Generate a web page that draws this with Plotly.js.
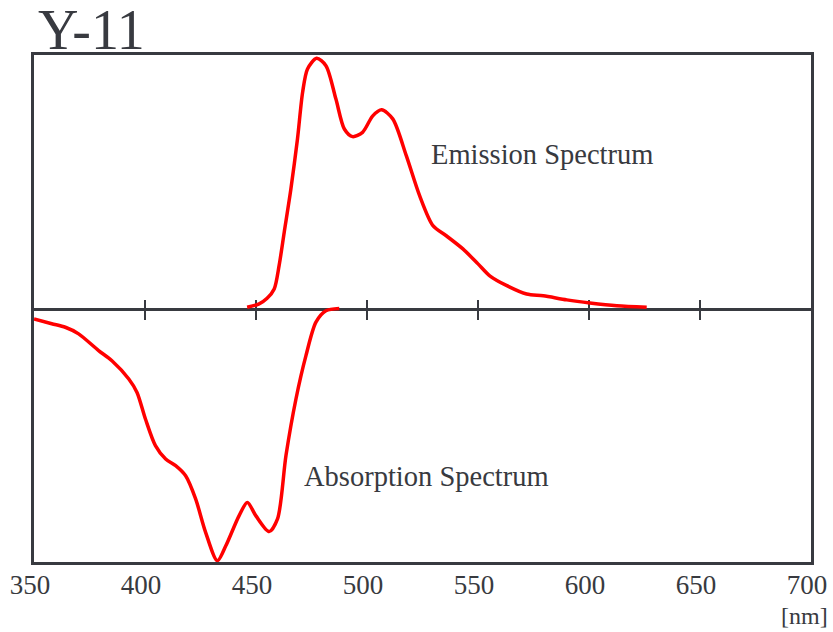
<!DOCTYPE html>
<html>
<head>
<meta charset="utf-8">
<script src="https://cdn.plot.ly/plotly-3.0.1.min.js"></script>
<style>html,body{margin:0;padding:0;background:#fff;}#chart{width:833px;height:632px;}</style>
</head>
<body>
<div id="chart"></div>
<script>
// Emission spectrum (normalized, positive)
var emissionNm = [446, 451.4, 455, 458.2, 460.4, 462.7, 465.7, 468.7, 471, 473.2, 477.3, 481.5, 486, 489.8, 493.5, 498, 502.6, 506.6, 511.6, 517.7, 523.7, 529.7, 535.7, 543.2, 550, 555.3, 563, 571.9, 579.4, 590, 600.4, 612.5, 626];
var emissionVal = [0.005, 0.018, 0.04, 0.077, 0.169, 0.30, 0.47, 0.67, 0.853, 0.945, 0.987, 0.958, 0.826, 0.708, 0.678, 0.695, 0.76, 0.784, 0.748, 0.603, 0.445, 0.327, 0.287, 0.235, 0.176, 0.129, 0.09, 0.057, 0.05, 0.034, 0.022, 0.011, 0.005];

// Absorption spectrum (normalized, drawn downward)
var absorptionNm = [350, 358, 364.1, 370.1, 379.1, 385.1, 392.7, 396.4, 400.2, 404.7, 409.3, 413.8, 418.3, 422.8, 427.3, 432.6, 436.4, 442.4, 446.1, 449.9, 455.9, 459.7, 463.5, 468, 472.5, 477, 481.5, 487.5];
var absorptionVal = [-0.041, -0.06, -0.074, -0.10, -0.166, -0.206, -0.278, -0.331, -0.436, -0.541, -0.594, -0.62, -0.66, -0.751, -0.883, -0.995, -0.936, -0.817, -0.765, -0.817, -0.88, -0.83, -0.58, -0.357, -0.186, -0.054, -0.009, 0];

var tickLabels = [350, 400, 450, 500, 550, 600, 650, 700];
var midTicks = [400, 450, 500, 550, 600, 650];

var FONT = "Liberation Serif, Times New Roman, serif";
var INK = "#383a40";

var traces = [
  {x: emissionNm, y: emissionVal, type: "scatter", mode: "lines", name: "Emission",
   line: {color: "#ff0000", width: 3.5, shape: "spline", smoothing: 0.8}, hoverinfo: "skip"},
  {x: absorptionNm, y: absorptionVal, type: "scatter", mode: "lines", name: "Absorption",
   line: {color: "#ff0000", width: 3.5, shape: "spline", smoothing: 0.8}, hoverinfo: "skip"}
];

var layout = {
  width: 833, height: 632,
  margin: {l: 34, r: 22, t: 55, b: 70},
  paper_bgcolor: "#fff", plot_bgcolor: "#fff",
  showlegend: false,
  font: {family: FONT, color: INK},
  title: {text: "Y-11", font: {family: FONT, size: 56, color: INK},
          x: 38 / 833, xanchor: "left", xref: "container",
          y: 1 - 29 / 632, yanchor: "middle", yref: "container"},
  xaxis: {range: [350, 700], tickvals: tickLabels, ticktext: tickLabels.map(String),
          ticks: "", showgrid: false, zeroline: false,
          showline: true, mirror: true, linecolor: INK, linewidth: 3,
          tickfont: {family: FONT, size: 27, color: INK}, ticklabelshift: -4, ticklabelstandoff: -3,
          layer: "below traces", fixedrange: true},
  xaxis2: {overlaying: "x", matches: "x", anchor: "free", position: 0.5,
           tickvals: midTicks, showticklabels: false, ticks: "outside", ticklen: 9,
           tickwidth: 2.6, tickcolor: INK, showline: true, linecolor: INK, linewidth: 3,
           showgrid: false, zeroline: false, layer: "below traces"},
  xaxis3: {overlaying: "x", matches: "x", anchor: "free", position: 0.5,
           tickvals: midTicks, showticklabels: false, ticks: "inside", ticklen: 9,
           tickwidth: 2.6, tickcolor: INK, showline: false,
           showgrid: false, zeroline: false, layer: "below traces"},
  yaxis: {range: [-1, 1], showticklabels: false, ticks: "", showgrid: false, zeroline: false,
          showline: true, mirror: true, linecolor: INK, linewidth: 3, layer: "below traces", fixedrange: true},
  annotations: [
    {text: "Emission Spectrum", x: 578.8, y: 0.607, xref: "x", yref: "y", showarrow: false,
     font: {family: FONT, size: 28.5, color: INK}},
    {text: "Absorption Spectrum", x: 526.6, y: -0.663, xref: "x", yref: "y", showarrow: false,
     font: {family: FONT, size: 28.5, color: INK}},
    {text: "[nm]", x: (830 - 34) / 777, y: (562 - 616) / 507, xref: "paper", yref: "paper", showarrow: false,
     xanchor: "right", yanchor: "middle", font: {family: FONT, size: 24, color: INK}}
  ]
};

// dummy traces to activate the overlay axes
traces.push({x: [350, 700], y: [0, 0], xaxis: "x2", type: "scatter", mode: "lines",
             line: {width: 0, color: "rgba(0,0,0,0)"}, hoverinfo: "skip"});
traces.push({x: [350, 700], y: [0, 0], xaxis: "x3", type: "scatter", mode: "lines",
             line: {width: 0, color: "rgba(0,0,0,0)"}, hoverinfo: "skip"});

Plotly.newPlot("chart", traces, layout, {displayModeBar: false, staticPlot: true});
</script>
</body>
</html>
